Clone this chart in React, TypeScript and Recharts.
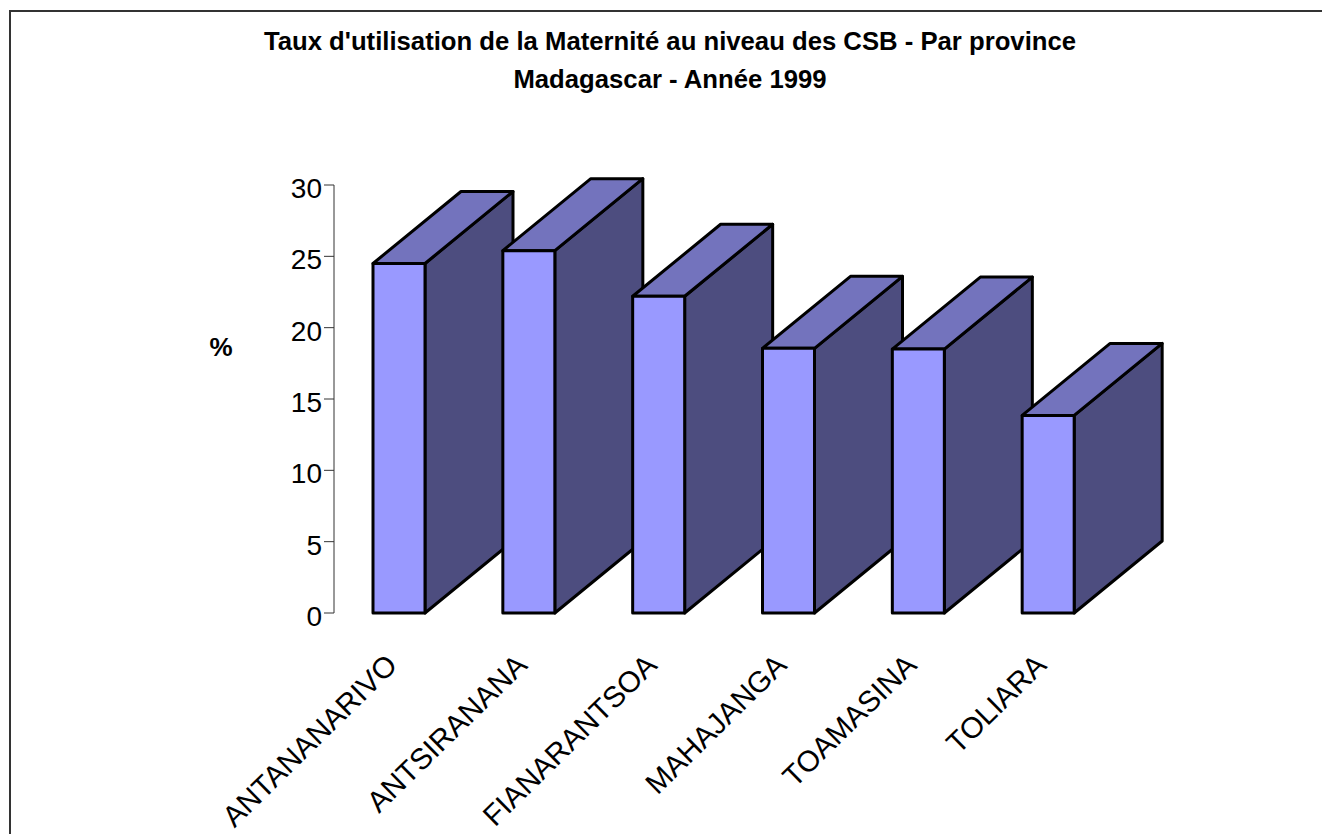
import { BarChart, Bar, XAxis, YAxis } from "recharts";

const provinces = [
  "ANTANANARIVO",
  "ANTSIRANANA",
  "FIANARANTSOA",
  "MAHAJANGA",
  "TOAMASINA",
  "TOLIARA",
];
const rates = [24.5, 25.4, 22.2, 18.55, 18.5, 13.85];
const yTicks = [0, 5, 10, 15, 20, 25, 30];

const data = provinces.map((name, i) => ({ name, rate: rates[i] }));

const FONT = "'Liberation Sans', Arial, sans-serif";
const DEPTH_X = 88;
const DEPTH_Y = 72;

// fake 3D box: side and top faces first, then the front
function Box3D(props: any) {
  const { x, y, width, height } = props;
  const r = x + width;
  const b = y + height;
  const line = {
    stroke: "#000",
    strokeWidth: 3,
    strokeLinejoin: "round" as const,
  };
  return (
    <g>
      <polygon
        points={`${r},${y} ${r + DEPTH_X},${y - DEPTH_Y} ${r + DEPTH_X},${b - DEPTH_Y} ${r},${b}`}
        fill="#4d4d7f"
        {...line}
      />
      <polygon
        points={`${x},${y} ${x + DEPTH_X},${y - DEPTH_Y} ${r + DEPTH_X},${y - DEPTH_Y} ${r},${y}`}
        fill="#7373bd"
        {...line}
      />
      <rect x={x} y={y} width={width} height={height} fill="#9999ff" {...line} />
    </g>
  );
}

function RotatedTick(props: any) {
  const { x, y, payload } = props;
  return (
    <text
      transform={`translate(${x},${y + 46}) rotate(-44.5)`}
      x={0}
      y={0}
      textAnchor="end"
      fontFamily={FONT}
      fontSize={29.5}
      fill="#000"
    >
      {payload.value}
    </text>
  );
}

function ValueTick(props: any) {
  const { x, y, payload } = props;
  return (
    <text
      x={x + 1}
      y={y + 13}
      textAnchor="end"
      fontFamily={FONT}
      fontSize={28}
      fill="#000"
    >
      {payload.value}
    </text>
  );
}

export default function App() {
  return (
    <div
      style={{
        position: "absolute",
        left: 0,
        top: 0,
        width: 1322,
        height: 834,
        background: "#fff",
        overflow: "hidden",
      }}
    >
      <div
        style={{
          position: "absolute",
          left: 9,
          top: 10,
          width: 1330,
          height: 840,
          border: "2px solid #333",
          boxSizing: "border-box",
        }}
      />
      <div style={{ position: "absolute", left: 0, top: 0 }}>
        <BarChart
          width={1322}
          height={834}
          data={data}
          margin={{ top: 185, right: 209, bottom: 21, left: 234 }}
        >
          <text
            x={670}
            y={50}
            textAnchor="middle"
            fontFamily={FONT}
            fontSize={25.7}
            fontWeight="bold"
          >
            {"Taux d'utilisation de la Maternité au niveau des CSB - Par province"}
          </text>
          <text
            x={670}
            y={88}
            textAnchor="middle"
            fontFamily={FONT}
            fontSize={25.7}
            fontWeight="bold"
          >
            Madagascar - Année 1999
          </text>
          <text
            x={221}
            y={356}
            textAnchor="middle"
            fontFamily={FONT}
            fontSize={26}
            fontWeight="bold"
          >
            %
          </text>
          <XAxis
            dataKey="name"
            axisLine={false}
            tickLine={false}
            interval={0}
            height={200}
            tick={<RotatedTick />}
          />
          <YAxis
            width={100}
            domain={[0, 30]}
            ticks={yTicks}
            interval={0}
            stroke="#333"
            tickSize={10}
            tickMargin={3}
            tick={<ValueTick />}
          />
          <Bar
            dataKey="rate"
            barSize={52}
            isAnimationActive={false}
            shape={<Box3D />}
          />
        </BarChart>
      </div>
    </div>
  );
}
